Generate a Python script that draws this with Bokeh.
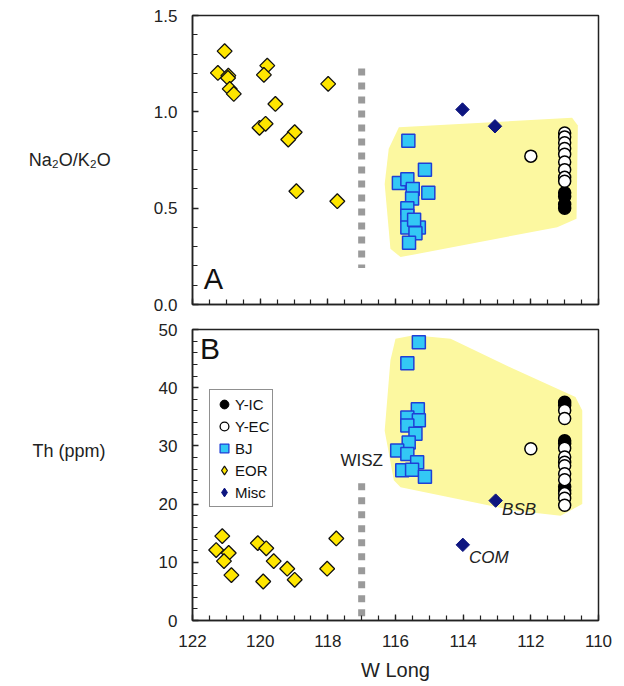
import numpy as np
from bokeh.plotting import figure
from bokeh.models import (Range1d, SingleIntervalTicker, NumeralTickFormatter, Label,
                          Legend, LegendItem)
from bokeh.layouts import column
from bokeh.embed import file_html
from bokeh.resources import INLINE

FONT = "Liberation Sans"

# ---------------- data: panel A (Na2O/K2O) ----------------
eor_a_x = [121.05, 121.25, 120.94, 120.95, 120.90, 120.78, 119.79, 119.89, 119.55,
           120.02, 119.84, 118.98, 119.17, 117.99, 118.93, 117.72]
eor_a_y = [1.315, 1.202, 1.188, 1.176, 1.119, 1.093, 1.240, 1.192, 1.041,
           0.917, 0.938, 0.894, 0.856, 1.145, 0.588, 0.536]
bj_a_x = [115.62, 115.13, 115.03, 115.90, 115.65, 115.49, 115.51, 115.65, 115.65,
          115.65, 115.31, 115.41, 115.60, 115.45]
bj_a_y = [0.85, 0.70, 0.58, 0.63, 0.65, 0.60, 0.55, 0.50, 0.46, 0.40, 0.40, 0.37, 0.32, 0.44]
misc_a_x = [114.02, 113.06]
misc_a_y = [1.012, 0.925]
yic_a_x = [111.0, 111.0, 111.0, 111.0]
yic_a_y = [0.58, 0.56, 0.52, 0.50]
yec_a_x = [111.0, 111.0, 111.0, 111.0, 111.0, 111.0, 111.0, 111.0, 111.0, 112.0]
yec_a_y = [0.89, 0.87, 0.84, 0.81, 0.78, 0.74, 0.70, 0.66, 0.64, 0.77]
field_a_x = [115.90, 110.78, 110.61, 110.65, 111.22, 115.85, 116.15, 116.32, 116.20]
field_a_y = [0.920, 0.969, 0.929, 0.445, 0.401, 0.246, 0.289, 0.626, 0.808]

# ---------------- data: panel B (Th ppm) ----------------
eor_b_x = [121.12, 121.30, 120.93, 121.07, 120.85, 120.07, 119.82, 119.60, 119.20,
           118.98, 119.91, 118.02, 117.75]
eor_b_y = [14.5, 12.1, 11.6, 10.2, 7.8, 13.3, 12.4, 10.2, 8.9, 7.0, 6.7, 8.9, 14.1]
bj_b_x = [115.31, 115.65, 115.34, 115.65, 115.31, 115.65, 115.41, 115.61, 115.95,
          115.65, 115.36, 115.80, 115.51, 115.13]
bj_b_y = [47.8, 44.2, 36.3, 34.9, 34.4, 33.5, 32.1, 30.6, 29.2, 28.6, 27.2, 25.8, 25.9, 24.7]
misc_b_x = [113.04, 114.01]
misc_b_y = [20.6, 13.0]
misc_b_names = ["BSB", "COM"]
yic_b_x = [111.0, 111.0, 111.0, 111.0, 111.0, 111.0]
yic_b_y = [37.5, 37.0, 30.9, 30.4, 23.0, 22.4]
yec_b_x = [111.0] * 11 + [112.0]
yec_b_y = [36.1, 34.7, 29.6, 28.1, 27.2, 26.6, 25.2, 24.2, 21.8, 21.0, 19.8, 29.5]
field_b_x = [116.0, 115.46, 114.37, 112.50, 110.68, 110.48, 110.48, 111.12, 112.5,
             115.85, 116.05, 116.32, 116.15]
field_b_y = [48.4, 49.0, 48.4, 43.2, 38.4, 36.1, 20.0, 18.0, 18.9, 22.9, 24.1, 32.6, 44.7]

# WISZ boundary
wisz_lon = 117.0
wisz_a_y = [1.225, 0.19]
wisz_b_y = [23.6, 0.0]

x_ticks = list(range(110, 124, 2))

# ---------------- styles ----------------
EOR = dict(marker="square", angle=np.pi / 4, size=10.5, fill_color="#ffe600",
           line_color="#111111", line_width=1.3)
BJ = dict(marker="square", size=13, fill_color="#33c8f5", line_color="#1f3fd6", line_width=1.5)
MISC = dict(marker="square", angle=np.pi / 4, size=9.5, fill_color="#0d1580",
            line_color="#0d1580", line_width=1)
YIC = dict(marker="circle", size=12, fill_color="#000000", line_color="#000000", line_width=1.5)
YEC = dict(marker="circle", size=12, fill_color="#ffffff", line_color="#000000", line_width=1.5)
FIELD = "#fcf8a0"
DASH = dict(line_color="#9a9a9a", line_width=7, line_dash="7 7")

xr = Range1d(122, 110)


def style(p):
    p.xgrid.visible = False
    p.ygrid.visible = False
    p.outline_line_color = "#222222"
    p.outline_line_width = 1.5
    p.background_fill_color = "white"
    p.border_fill_color = "white"
    for ax in p.axis:
        ax.axis_line_color = "#222222"
        ax.axis_line_width = 1.5
        ax.major_tick_in = 6
        ax.major_tick_out = 0
        ax.minor_tick_in = 5
        ax.minor_tick_out = 0
        ax.major_tick_line_width = 1.3
        ax.minor_tick_line_width = 1.2
        ax.major_tick_line_color = "#222222"
        ax.minor_tick_line_color = "#222222"
        ax.major_label_text_font = FONT
        ax.major_label_text_font_size = "17px"
        ax.major_label_text_color = "#222222"
    for ax in p.yaxis:
        ax.major_label_standoff = 15
        ax.axis_label_orientation = "horizontal"
        ax.axis_label_text_font = FONT
        ax.axis_label_text_font_style = "normal"
        ax.axis_label_text_font_size = "18px"
        ax.axis_label_text_color = "#222222"


# ---------------- panel A ----------------
p1 = figure(width=616, height=319, x_range=xr, y_range=Range1d(0, 1.5),
            output_backend="svg", toolbar_location=None,
            min_border_left=192, min_border_right=18, min_border_top=15, min_border_bottom=15)
style(p1)
p1.xaxis.ticker = SingleIntervalTicker(interval=2, num_minor_ticks=4)
p1.xaxis.major_label_overrides = {t: "" for t in x_ticks}
p1.xaxis.major_label_text_font_size = "1px"
p1.xaxis.major_label_standoff = 0
p1.yaxis.ticker = SingleIntervalTicker(interval=0.5, num_minor_ticks=5)
p1.yaxis.formatter = NumeralTickFormatter(format="0.0")
p1.yaxis.axis_label = "Na\u2082O/K\u2082O"
p1.yaxis.axis_label_standoff = 40

p1.patch(field_a_x, field_a_y, fill_color=FIELD, line_color=None)
p1.line([wisz_lon, wisz_lon], wisz_a_y, **DASH)
p1.scatter(eor_a_x, eor_a_y, **EOR)
p1.scatter(bj_a_x, bj_a_y, **BJ)
p1.scatter(misc_a_x, misc_a_y, **MISC)
p1.scatter(yic_a_x, yic_a_y, **YIC)
p1.scatter(yec_a_x, yec_a_y, **YEC)

p1.add_layout(Label(x=121.67, y=0.132, text="A", text_font=FONT, text_font_size="29px",
                    text_color="#111111", text_align="left", text_baseline="middle"))

# ---------------- panel B ----------------
p2 = figure(width=616, height=367, x_range=xr, y_range=Range1d(0, 50),
            output_backend="svg", toolbar_location=None,
            min_border_left=192, min_border_right=18, min_border_top=10, min_border_bottom=66)
style(p2)
p2.xaxis.ticker = SingleIntervalTicker(interval=2, num_minor_ticks=4)
p2.yaxis.ticker = SingleIntervalTicker(interval=10, num_minor_ticks=5)
p2.yaxis.axis_label = "Th (ppm)\n\n"
p2.yaxis.axis_label_standoff = 50
p2.xaxis.axis_label = "W Long"
p2.xaxis.axis_label_text_font = FONT
p2.xaxis.axis_label_text_font_style = "normal"
p2.xaxis.axis_label_text_font_size = "20px"
p2.xaxis.axis_label_text_color = "#222222"
p2.xaxis.axis_label_standoff = 9
p2.xaxis.major_label_standoff = 14

p2.patch(field_b_x, field_b_y, fill_color=FIELD, line_color=None)
p2.line([wisz_lon, wisz_lon], wisz_b_y, **DASH)
p2.scatter(eor_b_x, eor_b_y, **EOR)
p2.scatter(bj_b_x, bj_b_y, **BJ)
p2.scatter(misc_b_x, misc_b_y, **MISC)
p2.scatter(yic_b_x, yic_b_y, **YIC)
p2.scatter(yec_b_x, yec_b_y, **YEC)

p2.add_layout(Label(x=121.78, y=46.8, text="B", text_font=FONT, text_font_size="30px",
                    text_color="#111111", text_align="left", text_baseline="middle"))
p2.add_layout(Label(x=wisz_lon, y=27.5, text="WISZ", text_font=FONT, text_font_size="17px",
                    text_color="#222222", text_align="center", text_baseline="middle"))
p2.add_layout(Label(x=112.85, y=19.0, text=misc_b_names[0], text_font=FONT,
                    text_font_size="17px", text_font_style="italic", text_color="#222222",
                    text_align="left", text_baseline="middle"))
p2.add_layout(Label(x=113.83, y=10.9, text=misc_b_names[1], text_font=FONT,
                    text_font_size="17px", text_font_style="italic", text_color="#222222",
                    text_align="left", text_baseline="middle"))

# legend: key glyphs drawn by proxy renderers of the same data on an off-screen range
p2.extra_y_ranges = {"legend_keys": Range1d(-1000, -999)}
lg_yic = p2.scatter(yic_b_x, yic_b_y, y_range_name="legend_keys", marker="circle",
                    fill_color="#000000", line_color="#000000")
lg_yec = p2.scatter(yec_b_x, yec_b_y, y_range_name="legend_keys", marker="circle",
                    fill_color="#ffffff", line_color="#000000", line_width=1.3)
lg_bj = p2.scatter(bj_b_x, bj_b_y, y_range_name="legend_keys", marker="square",
                   fill_color="#33c8f5", line_color="#1f3fd6", line_width=1.3)
lg_eor = p2.scatter(eor_b_x, eor_b_y, y_range_name="legend_keys", marker="diamond",
                    fill_color="#ffe600", line_color="#111111", line_width=1.2)
lg_misc = p2.scatter(misc_b_x, misc_b_y, y_range_name="legend_keys", marker="diamond",
                     fill_color="#0d1580", line_color="#0d1580")
legend = Legend(items=[LegendItem(label="Y-IC", renderers=[lg_yic]),
                       LegendItem(label="Y-EC", renderers=[lg_yec]),
                       LegendItem(label="BJ", renderers=[lg_bj]),
                       LegendItem(label="EOR", renderers=[lg_eor]),
                       LegendItem(label="Misc", renderers=[lg_misc])],
                location=(17, 113), margin=0, padding=3, spacing=0,
                glyph_width=22, glyph_height=22, label_height=22, label_standoff=0,
                label_text_font=FONT, label_text_font_size="15px", label_text_color="#111111",
                border_line_color="#222222", border_line_width=1.5,
                background_fill_color="white", background_fill_alpha=1.0)
p2.add_layout(legend, "center")

page = column(p1, p2, spacing=0)
open("out.html", "w").write(file_html(page, INLINE))
